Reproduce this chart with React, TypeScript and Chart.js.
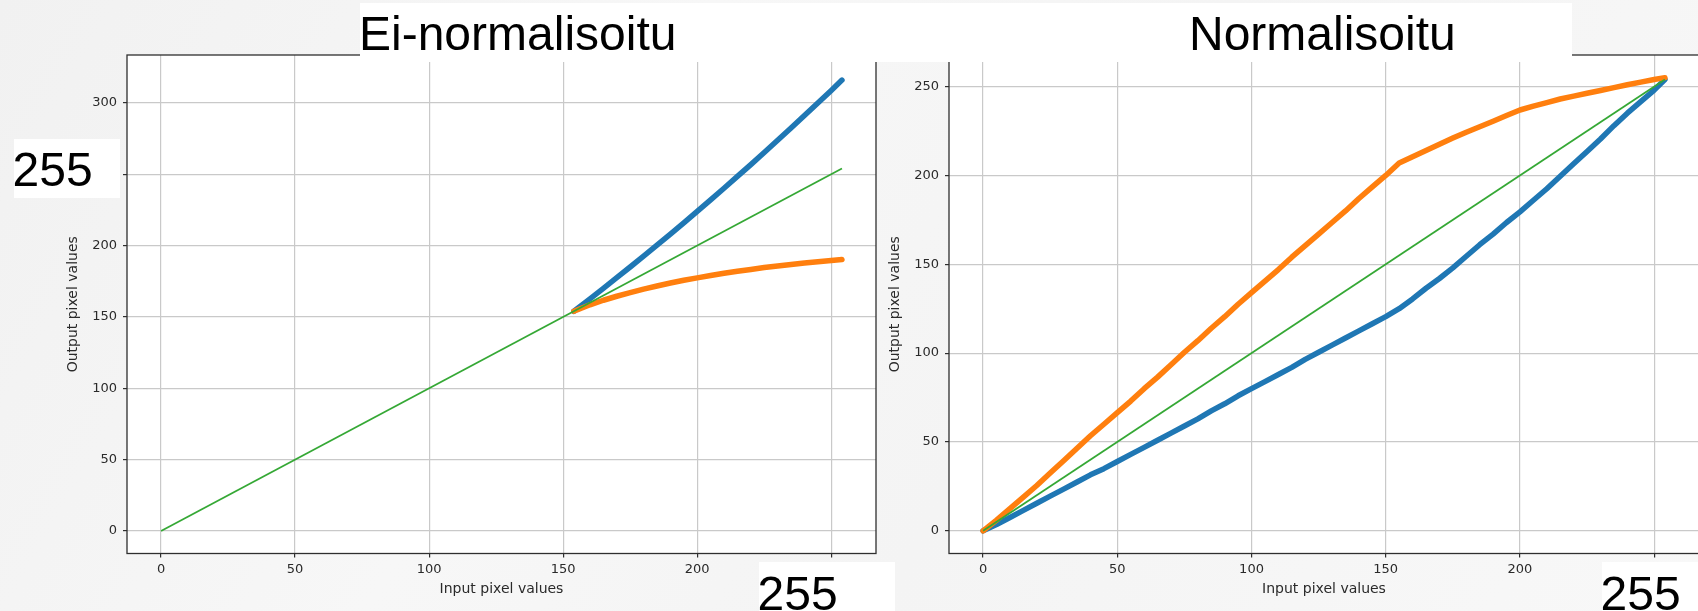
import React, { useEffect, useRef } from "react";
import { Chart, registerables } from "chart.js";

Chart.register(...registerables);

// ---------- data ----------
const xTickValues = [0, 50, 100, 150, 200, 250];
const leftYTickValues = [0, 50, 100, 150, 200, 250, 300];
const rightYTickValues = [0, 50, 100, 150, 200, 250];

const identityX = [0, 254];
const identityY = [0, 254];

// "Ei-normalisoitu" (left panel)
const leftX = [154, 160, 165, 170, 175, 180, 185, 190, 195, 200, 205, 210, 215, 220, 225, 230, 235, 240, 245, 250, 254];
const leftBlue = [154, 162.7, 170.0, 177.5, 185.0, 192.6, 200.3, 208.1, 216.0, 224.0, 232.1, 240.2, 248.5, 256.8, 265.3, 273.8, 282.4, 291.2, 300.0, 308.8, 316.0];
const leftOrange = [154, 158.5, 161.7, 164.5, 167, 169.5, 171.7, 173.8, 175.7, 177.4, 179, 180.6, 182, 183.3, 184.6, 185.7, 186.8, 187.8, 188.7, 189.5, 190.2];

// "Normalisoitu" (right panel)
const rightX = [0, 5, 10, 15, 20, 25, 30, 35, 40, 45, 50, 55, 60, 65, 70, 75, 80, 85, 90, 95, 100, 105, 110, 115, 120, 125, 130, 135, 140, 145, 150, 155, 160, 165, 170, 175, 180, 185, 190, 195, 200, 205, 210, 215, 220, 225, 230, 235, 240, 245, 250, 254];
const rightBlue = [0, 3.5, 7.5, 11.5, 15.5, 19.5, 23.5, 27.5, 31.5, 35, 39, 43, 47, 51, 55, 59, 63, 67.5, 71.5, 76, 80, 84, 88, 92, 96.5, 100.5, 104.5, 108.5, 112.5, 116.5, 120.5, 125, 130.5, 136.5, 142, 148, 154.5, 161, 167, 173.5, 179.5, 186, 192.5, 199.5, 206.5, 213.5, 220.5, 228, 235, 241.5, 248, 254];
const rightOrange = [0, 6, 12.5, 19, 25.5, 32.5, 39.5, 46.5, 53.5, 60, 66.5, 73, 80, 86.5, 93.5, 100.5, 107, 114, 120.5, 127.5, 134, 140.5, 147, 154, 160.5, 167, 173.5, 180, 187, 193.5, 200, 207, 210.5, 214, 217.5, 221, 224.3, 227.4, 230.5, 233.7, 236.8, 239, 241, 243, 244.6, 246.2, 247.8, 249.4, 251, 252.5, 254, 255];

const xAxisTitle = "Input pixel values";
const yAxisTitle = "Output pixel values";

// ---------- styles ----------
const BLUE = "#1f77b4";
const ORANGE = "#ff7f0e";
const GREEN = "#35a835";
const TEXT = "#2a2a2a";
const GRID = "#c9c9c9";
const FRAME = "#2f2f2f";

const pts = (xs: number[], ys: number[]) => xs.map((x, i) => ({ x, y: ys[i] }));

const framePlugin = {
  id: "frameBg",
  beforeDraw(chart: any) {
    const { ctx, chartArea: a } = chart;
    ctx.save();
    ctx.fillStyle = "#ffffff";
    ctx.fillRect(a.left, a.top, a.right - a.left, a.bottom - a.top);
    ctx.restore();
  },
  afterDatasetsDraw(chart: any) {
    const { ctx, chartArea: a } = chart;
    ctx.save();
    ctx.strokeStyle = FRAME;
    ctx.lineWidth = 1.3;
    ctx.strokeRect(a.left, a.top, a.right - a.left, a.bottom - a.top);
    ctx.restore();
  },
};

interface PanelProps {
  left: number;
  top: number;
  width: number;
  height: number;
  padRight: number;
  yMin: number;
  yMax: number;
  yTicks: number[];
  xs: number[];
  blue: number[];
  orange: number[];
}

function Panel(p: PanelProps) {
  const ref = useRef<HTMLCanvasElement | null>(null);
  useEffect(() => {
    if (!ref.current) return;
    const tickFont = { family: "'DejaVu Sans', sans-serif", size: 13 };
    const titleFont = { family: "'DejaVu Sans', sans-serif", size: 14 };
    const chart = new Chart(ref.current, {
      type: "line",
      data: {
        datasets: [
          {
            data: pts(identityX, identityY),
            borderColor: GREEN,
            borderWidth: 1.8,
            pointRadius: 0,
            tension: 0,
          },
          {
            data: pts(p.xs, p.orange),
            borderColor: ORANGE,
            borderWidth: 5.5,
            pointRadius: 0,
            tension: 0,
            borderCapStyle: "round",
            borderJoinStyle: "round",
          },
          {
            data: pts(p.xs, p.blue),
            borderColor: BLUE,
            borderWidth: 5.5,
            pointRadius: 0,
            tension: 0,
            borderCapStyle: "round",
            borderJoinStyle: "round",
          },
        ],
      },
      options: {
        animation: false,
        responsive: false,
        maintainAspectRatio: false,
        layout: { padding: { top: 10, right: p.padRight, bottom: 0, left: 0 } },
        plugins: { legend: { display: false }, tooltip: { enabled: false } },
        scales: {
          x: {
            type: "linear",
            min: -12.7,
            max: 266.7,
            bounds: "data",
            afterBuildTicks: (s: any) => {
              s.ticks = xTickValues.map((v) => ({ value: v }));
            },
            afterFit: (s: any) => {
              s.height = 57.5;
              s.paddingLeft = 0;
              s.paddingRight = 0;
            },
            grid: { color: GRID, lineWidth: 1.2, tickLength: 4, tickColor: FRAME, tickWidth: 1.2 },
            border: { display: false },
            ticks: { font: tickFont, color: TEXT, padding: 4, maxRotation: 0, autoSkip: false },
            title: { display: true, text: xAxisTitle, font: titleFont, color: TEXT, padding: { top: 0, bottom: 13 } },
          },
          y: {
            type: "linear",
            min: p.yMin,
            max: p.yMax,
            bounds: "data",
            afterBuildTicks: (s: any) => {
              s.ticks = p.yTicks.map((v) => ({ value: v }));
            },
            afterFit: (s: any) => {
              s.width = 70;
              s.paddingTop = 0;
              s.paddingBottom = 0;
            },
            grid: { color: GRID, lineWidth: 1.2, tickLength: 4, tickColor: FRAME, tickWidth: 1.2 },
            border: { display: false },
            ticks: { font: tickFont, color: TEXT, padding: 6, autoSkip: false },
            title: { display: true, text: yAxisTitle, font: titleFont, color: TEXT, padding: { top: 8, bottom: 0 } },
          },
        },
      },
      plugins: [framePlugin],
    } as any);
    return () => chart.destroy();
  }, []);
  return (
    <canvas
      ref={ref}
      width={p.width}
      height={p.height}
      style={{ position: "absolute", left: p.left, top: p.top, width: p.width, height: p.height }}
    />
  );
}

const bigText: React.CSSProperties = {
  position: "absolute",
  fontFamily: "'Liberation Sans', Arial, sans-serif",
  fontSize: 48,
  lineHeight: "48px",
  color: "#000",
  whiteSpace: "nowrap",
};

const whiteBox = (left: number, top: number, width: number, height: number): React.CSSProperties => ({
  position: "absolute",
  left,
  top,
  width,
  height,
  background: "#ffffff",
});

export default function App() {
  return (
    <div
      style={{
        position: "fixed",
        left: 0,
        top: 0,
        width: 1698,
        height: 611,
        overflow: "hidden",
        background: "linear-gradient(120deg, #f1f1f1 0%, #f7f7f7 35%, #f4f4f4 60%, #f8f8f8 100%)",
      }}
    >
      <Panel
        left={57}
        top={45}
        width={824}
        height={566}
        padRight={5}
        yMin={-15.8}
        yMax={333.6}
        yTicks={leftYTickValues}
        xs={leftX}
        blue={leftBlue}
        orange={leftOrange}
      />
      <Panel
        left={879}
        top={45}
        width={822}
        height={566}
        padRight={2}
        yMin={-12.75}
        yMax={267.75}
        yTicks={rightYTickValues}
        xs={rightX}
        blue={rightBlue}
        orange={rightOrange}
      />
      {/* title banner */}
      <div style={whiteBox(360, 3, 1212, 59)} />
      <div style={{ ...bigText, left: 359, top: 10.2 }}>Ei-normalisoitu</div>
      <div style={{ ...bigText, left: 1189, top: 10.2 }}>Normalisoitu</div>
      {/* 255 annotations */}
      <div style={whiteBox(14, 139, 106, 59)} />
      <div style={{ ...bigText, left: 12.6, top: 145.8 }}>255</div>
      <div style={whiteBox(759, 562, 136, 60)} />
      <div style={{ ...bigText, left: 757.6, top: 569.8 }}>255</div>
      <div style={whiteBox(1602, 562, 110, 60)} />
      <div style={{ ...bigText, left: 1600.6, top: 569.8 }}>255</div>
    </div>
  );
}
